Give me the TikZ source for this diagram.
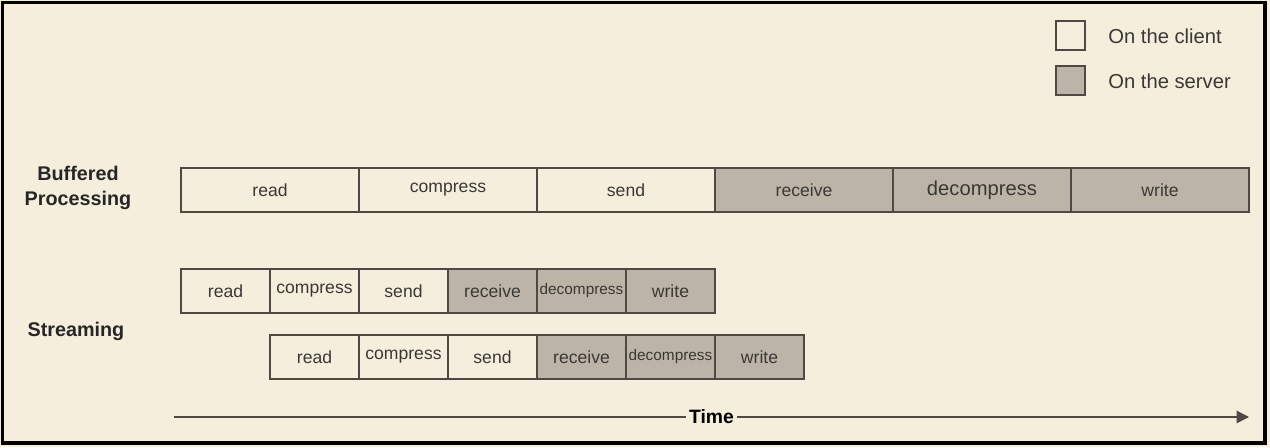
\documentclass[tikz,border=0pt]{standalone}
\usepackage{fontspec}
\setmainfont{Liberation Sans}
\usetikzlibrary{arrows.meta}
\definecolor{paper}{HTML}{F5EEDC}
\definecolor{srv}{HTML}{BCB5A7}
\definecolor{edge}{HTML}{4E4944}
\definecolor{ink}{HTML}{3A3835}

\begin{document}
\begin{tikzpicture}[x=0.02cm,y=-0.02cm,
    client/.style={draw=edge,line width=0.8pt,fill=paper,text=ink,minimum height=0.88cm,inner sep=0pt,font=\fontsize{10}{12}\selectfont},
    server/.style={client,fill=srv},
    wide/.style={minimum width=3.56cm},
    narrow/.style={minimum width=1.78cm},
    rowlabel/.style={font=\bfseries\fontsize{11.25}{14.7}\selectfont,align=center,text=black!85},
    legendbox/.style={draw=edge,line width=0.8pt,minimum size=0.58cm,inner sep=0pt},
    legendtext/.style={anchor=west,inner sep=0pt,text=ink,font=\fontsize{11.5}{14}\selectfont}]

      \useasboundingbox (0,0) rectangle (1270,447);
      \fill[paper] (0,0) rectangle (1270,447);
      \draw[line width=2pt,black] (2.5,2.5) rectangle (1265,443);

      % legend
      \node[legendbox,fill=paper] (keyclient) at (1070.5,35.5) {};
      \node[legendbox,fill=srv] (keyserver) at (1070.5,80.5) {};
      \node[legendtext] (keyclienttext) at (1108,36) {On the client};
      \node[legendtext] (keyservertext) at (1108,81) {On the server};

      % buffered processing
      \node[rowlabel] (buffered) at (78,188) {Buffered\\Processing};
      \node[client,wide] (bread) at (270,190) {read};
      \node[client,wide] (bcompress) at (448,190) {compress};
      \node[client,wide] (bsend) at (626,190) {send};
      \node[server,wide] (breceive) at (804,190) {receive};
      \node[server,wide,font=\fontsize{11.5}{13}\selectfont] (bdecompress) at (982,190) {decompress};
      \node[server,wide] (bwrite) at (1160,190) {write};

      % streaming
      \node[rowlabel] (streaming) at (76,331) {Streaming};

      \node[client,narrow] (sread) at (225.5,291) {read};
      \node[client,narrow] (scompress) at (314.5,291) {compress};
      \node[client,narrow] (ssend) at (403.5,291) {send};
      \node[server,narrow] (sreceive) at (492.5,291) {receive};
      \node[server,narrow,font=\fontsize{8.75}{10}\selectfont] (sdecompress) at (581.5,291) {decompress};
      \node[server,narrow] (swrite) at (670.5,291) {write};

      \node[client,narrow] (tread) at (314.5,357) {read};
      \node[client,narrow] (tcompress) at (403.5,357) {compress};
      \node[client,narrow] (tsend) at (492.5,357) {send};
      \node[server,narrow] (treceive) at (581.5,357) {receive};
      \node[server,narrow,font=\fontsize{8.75}{10}\selectfont] (tdecompress) at (670.5,357) {decompress};
      \node[server,narrow] (twrite) at (759.5,357) {write};

      % time axis
      \coordinate (tstart) at (174,417);
      \coordinate (tend) at (1249,417);
      \draw[-{Triangle[length=7pt,width=7pt]},edge,line width=0.8pt] (tstart) -- node[fill=paper,inner xsep=2pt,text=black,font=\bfseries\fontsize{11}{13}\selectfont] (time) {Time} (tend);
    \end{tikzpicture}
\end{document}
